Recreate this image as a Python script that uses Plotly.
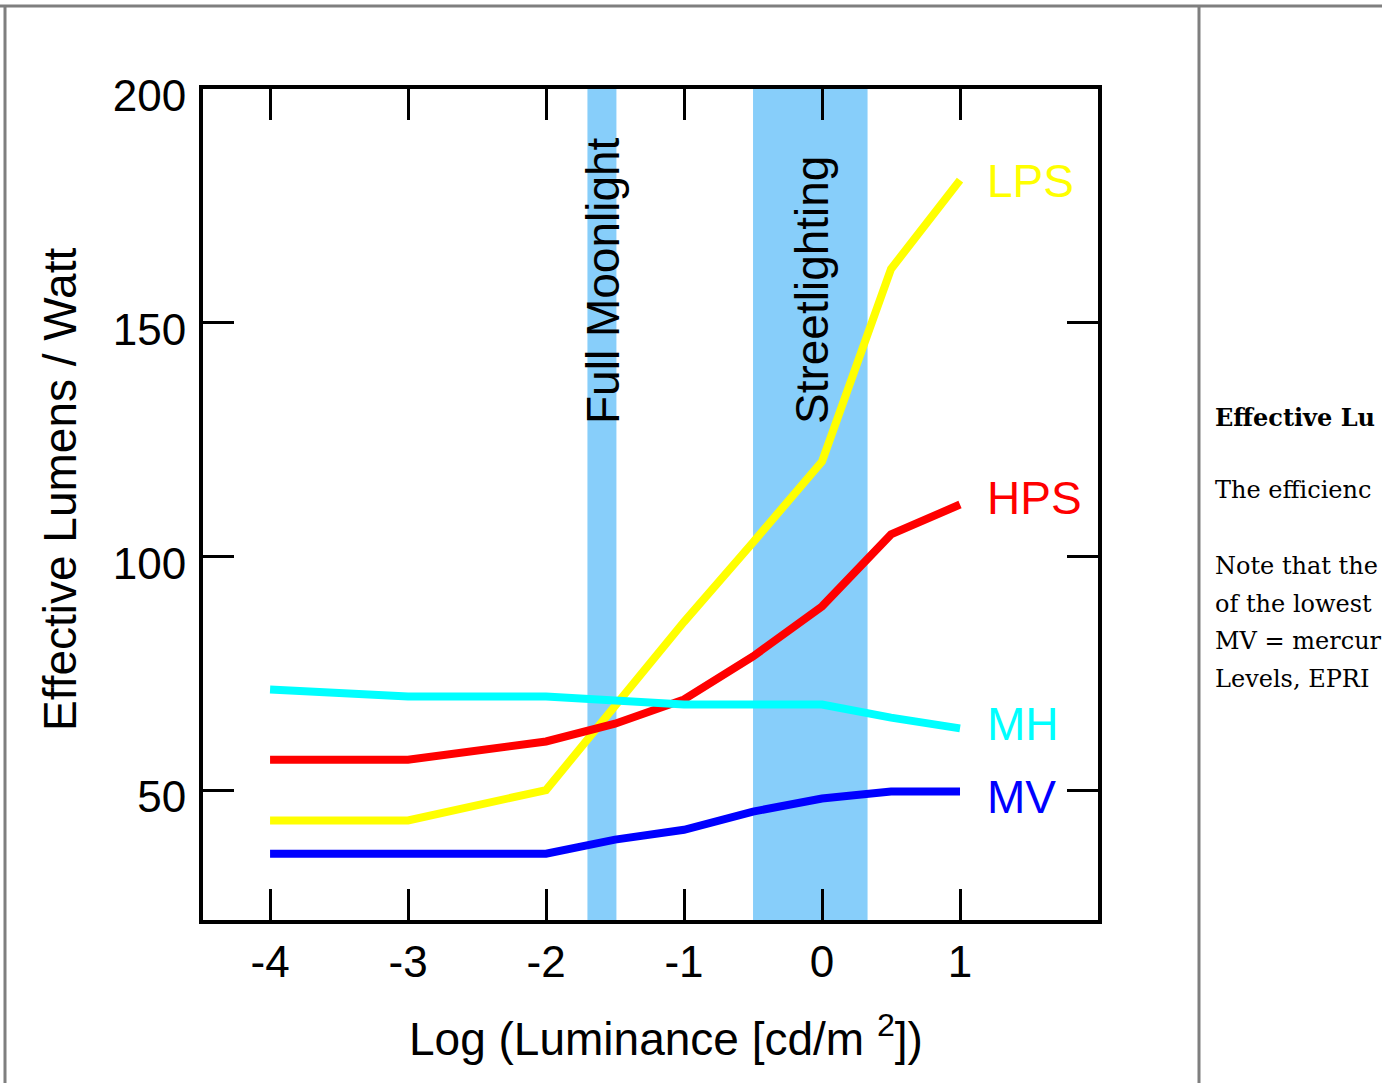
import plotly.graph_objects as go

# ---------------- data ----------------
x_points = [-4, -3, -2, -1.5, -1, -0.5, 0, 0.5, 1]
lps = [43.5, 43.5, 50, 68, 86, 103, 120.3, 161.5, 180.5]
hps = [56.5, 56.5, 60.4, 64.2, 69.4, 78.6, 89.3, 104.7, 111.1]
mh = [71.5, 70.0, 70.0, 69.0, 68.3, 68.3, 68.3, 65.5, 63.2]
mv = [36.4, 36.4, 36.4, 39.4, 41.5, 45.4, 48.2, 49.7, 49.7]

series_names = ["LPS", "HPS", "MH", "MV"]
series_values = [lps, hps, mh, mv]
series_colors = ["#FFFF00", "#FF0000", "#00FFFF", "#0000FF"]
label_pos_y = [180.3, 112.4, 64.2, 48.6]

x_tickvals = [-4, -3, -2, -1, 0, 1]
x_ticktext = ["-4", "-3", "-2", "-1", "0", "1"]
y_tickvals = [50, 100, 150, 200]

band_names = ["Full Moonlight", "Streetlighting"]
band_ranges = [[-1.70, -1.49], [-0.50, 0.33]]
band_text_x = [-1.587, -0.072]

side_lines = ["Effective Lu", "The efficienc", "Note that the", "of the lowest",
              "MV = mercur", "Levels, EPRI"]
side_line_py = [417, 490, 566, 604, 641, 679]

# ---------------- layout geometry ----------------
W, H = 1382, 1083
L, R, T, B = 203, 1098, 89, 920


def px_x(p):
    return (p - L) / (R - L)


def px_y(p):
    return (B - p) / (B - T)


fig = go.Figure()

for name, vals, col in zip(series_names, series_values, series_colors):
    fig.add_trace(go.Scatter(x=x_points, y=vals, mode="lines", name=name,
                             line=dict(color=col, width=8), showlegend=False))

# bands
for rng in band_ranges:
    fig.add_shape(type="rect", xref="x", yref="paper", x0=rng[0], x1=rng[1],
                  y0=0, y1=1, fillcolor="#87CEFA", line=dict(width=0), layer="below")

# band labels
for name, bx in zip(band_names, band_text_x):
    fig.add_annotation(x=bx, y=127.8, xref="x", yref="y", text=name, textangle=-90,
                       showarrow=False, xanchor="center", yanchor="bottom",
                       font=dict(family="Liberation Sans", size=46, color="black"))

# series labels
for name, col, ly in zip(series_names, series_colors, label_pos_y):
    fig.add_annotation(x=1.18, y=ly, xref="x", yref="y", text=name, showarrow=False,
                       xanchor="left", yanchor="middle",
                       font=dict(family="Liberation Sans", size=46, color=col))

# axis titles
fig.add_annotation(x=px_x(60), y=px_y(490), xref="paper", yref="paper",
                   text="Effective Lumens / Watt", textangle=-90, showarrow=False,
                   xanchor="center", yanchor="middle",
                   font=dict(family="Liberation Sans", size=46, color="black"))
fig.add_annotation(x=px_x(666), y=px_y(1036), xref="paper", yref="paper",
                   text="Log (Luminance [cd/m <sup>2</sup>])", showarrow=False,
                   xanchor="center", yanchor="middle",
                   font=dict(family="Liberation Sans", size=46, color="black"))

# side text
for i, (txt, py) in enumerate(zip(side_lines, side_line_py)):
    fig.add_annotation(x=px_x(1213), y=px_y(py), xref="paper", yref="paper",
                       text=("<b>%s</b>" % txt) if i == 0 else txt, showarrow=False,
                       xanchor="left", yanchor="middle",
                       font=dict(family="DejaVu Serif", size=24, color="black"))

# page frame
gray = "#7f7f7f"
fig.add_shape(type="line", xref="paper", yref="paper", x0=px_x(0), x1=px_x(W),
              y0=px_y(6), y1=px_y(6), line=dict(color=gray, width=3))
fig.add_shape(type="line", xref="paper", yref="paper", x0=px_x(5), x1=px_x(5),
              y0=px_y(6), y1=px_y(H), line=dict(color=gray, width=3))
fig.add_shape(type="line", xref="paper", yref="paper", x0=px_x(1199), x1=px_x(1199),
              y0=px_y(6), y1=px_y(H), line=dict(color=gray, width=3))

axis_common = dict(showgrid=False, zeroline=False, showline=True, linecolor="black",
                   linewidth=4, mirror="ticks", ticks="inside", ticklen=31,
                   tickwidth=3, tickcolor="black",
                   tickfont=dict(family="Liberation Sans", size=44, color="black"))

fig.update_xaxes(range=[-4.486, 2.0], tickvals=x_tickvals, ticktext=x_ticktext,
                 ticklabelstandoff=0, **axis_common)
fig.update_yaxes(range=[22.2, 200.0], tickvals=y_tickvals, ticklabelstandoff=4,
                 ticklabelshift=7, **axis_common)

fig.update_layout(width=W, height=H,
                  margin=dict(l=L, r=W - R, t=T, b=H - B, autoexpand=False),
                  plot_bgcolor="white", paper_bgcolor="white")

fig.write_html("out.html", config={"displayModeBar": False},
               post_script="document.body.style.margin='0';document.body.style.overflow='hidden';")
